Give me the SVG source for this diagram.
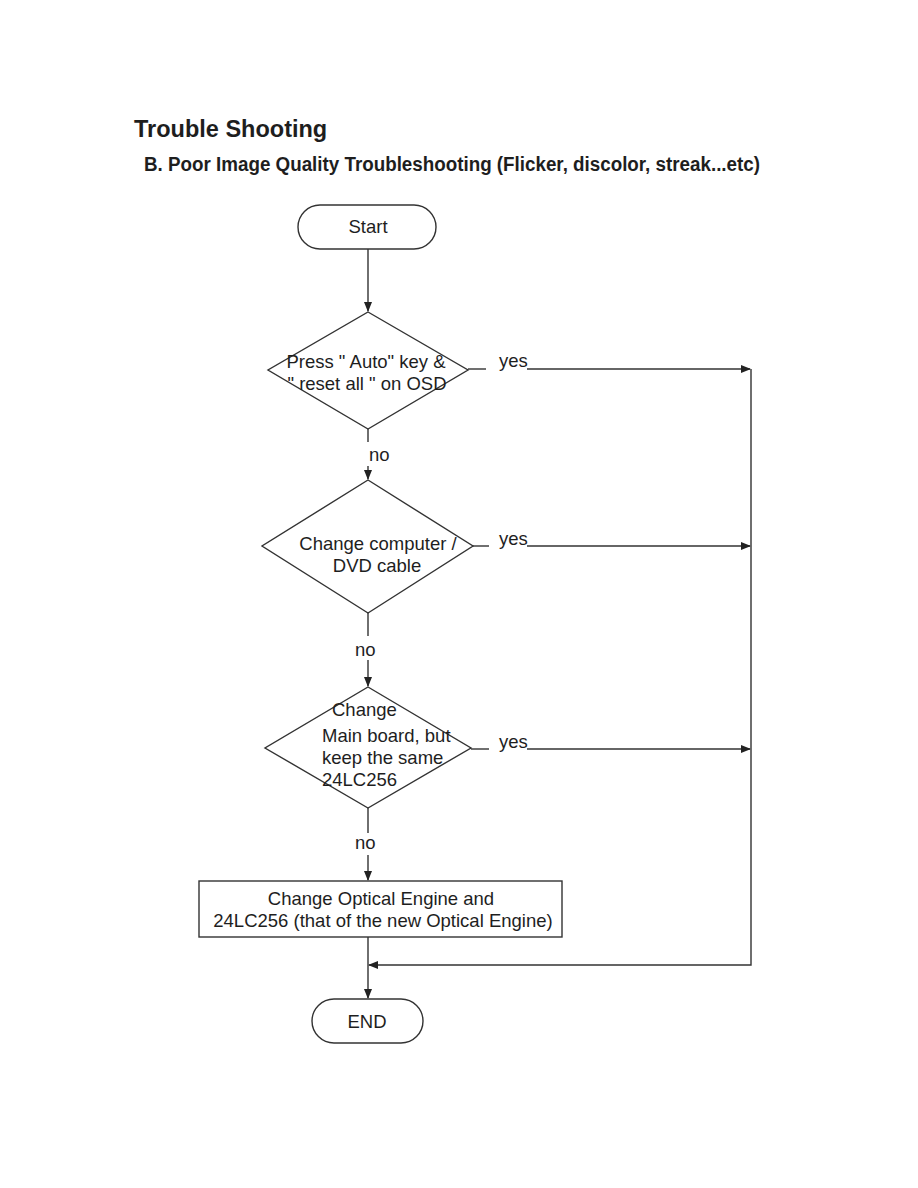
<svg xmlns="http://www.w3.org/2000/svg" width="918" height="1188" viewBox="0 0 918 1188">
<style>
.t{font-family:"Liberation Sans",Arial,sans-serif;fill:#1e1e1e}
.n{font-size:18.5px}
.s{fill:#fff;stroke:#333;stroke-width:1.4}
.c{fill:none;stroke:#333;stroke-width:1.4}
</style>
<defs>
<marker id="ah" markerWidth="10" markerHeight="8" refX="9" refY="4" orient="auto" markerUnits="userSpaceOnUse">
<path d="M0,0 L10,4 L0,8 Z" fill="#222"/>
</marker>
</defs>
<rect width="918" height="1188" fill="#fff"/>
<text class="t" x="134" y="137" font-size="23.5" font-weight="bold">Trouble Shooting</text>
<text class="t" x="144" y="171" font-size="19.5" font-weight="bold" textLength="616" lengthAdjust="spacingAndGlyphs">B. Poor Image Quality Troubleshooting (Flicker, discolor, streak...etc)</text>

<g id="connectors">
<line class="c" x1="368" y1="249" x2="368" y2="311" marker-end="url(#ah)"/>
<line class="c" x1="368" y1="429" x2="368" y2="442"/>
<line class="c" x1="368" y1="466" x2="368" y2="479" marker-end="url(#ah)"/>
<line class="c" x1="368" y1="613" x2="368" y2="636"/>
<line class="c" x1="368" y1="660" x2="368" y2="686" marker-end="url(#ah)"/>
<line class="c" x1="368" y1="808" x2="368" y2="833"/>
<line class="c" x1="368" y1="855" x2="368" y2="880" marker-end="url(#ah)"/>
<line class="c" x1="368" y1="937" x2="368" y2="998" marker-end="url(#ah)"/>
<line class="c" x1="468" y1="369" x2="486" y2="369"/>
<line class="c" x1="527" y1="369" x2="750" y2="369" marker-end="url(#ah)"/>
<line class="c" x1="473" y1="546" x2="489" y2="546"/>
<line class="c" x1="527" y1="546" x2="750" y2="546" marker-end="url(#ah)"/>
<line class="c" x1="471" y1="749" x2="489" y2="749"/>
<line class="c" x1="527" y1="749" x2="750" y2="749" marker-end="url(#ah)"/>
<polyline class="c" points="751,369 751,965 369,965" marker-end="url(#ah)"/>
<text class="t n" x="369" y="461">no</text>
<text class="t n" x="355" y="656">no</text>
<text class="t n" x="355" y="849">no</text>
<text class="t n" x="499" y="367">yes</text>
<text class="t n" x="499" y="545">yes</text>
<text class="t n" x="499" y="748">yes</text>
</g>

<g id="start">
<rect class="s" x="298" y="205" width="138" height="44" rx="22"/>
<text class="t n" x="368" y="233" text-anchor="middle">Start</text>
</g>

<g id="d1">
<polygon class="s" points="368,312 468,370 368,429 268,370"/>
<text class="t n" x="366" y="368" text-anchor="middle">Press " Auto" key &amp;</text>
<text class="t n" x="367" y="390" text-anchor="middle">" reset all " on OSD</text>
</g>

<g id="d2">
<polygon class="s" points="368,480 473,546 368,613 262,546"/>
<text class="t n" x="378" y="550" text-anchor="middle">Change computer /</text>
<text class="t n" x="377" y="572" text-anchor="middle">DVD cable</text>
</g>

<g id="d3">
<polygon class="s" points="368,687 471,748 368,808 265,748"/>
<text class="t n" x="332" y="716">Change</text>
<text class="t n" x="322" y="742">Main board, but</text>
<text class="t n" x="322" y="764">keep the same</text>
<text class="t n" x="322" y="786">24LC256</text>
</g>

<g id="box">
<rect class="s" x="199" y="881" width="363" height="56"/>
<text class="t n" x="381" y="905" text-anchor="middle">Change Optical Engine and</text>
<text class="t n" x="383" y="927" text-anchor="middle">24LC256 (that of the new Optical Engine)</text>
</g>

<g id="end">
<rect class="s" x="312" y="999" width="111" height="44" rx="22"/>
<text class="t n" x="367" y="1028" text-anchor="middle">END</text>
</g>
</svg>
